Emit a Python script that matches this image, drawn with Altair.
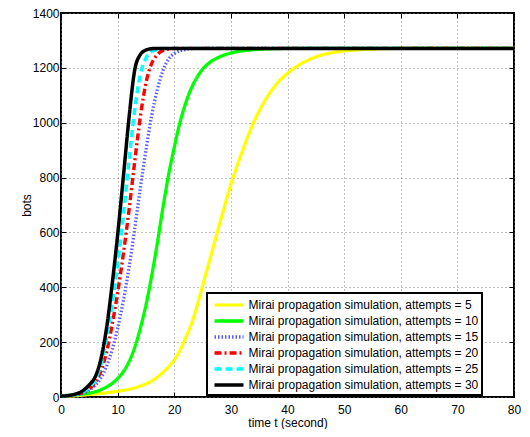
import altair as alt
import pandas as pd

t = [0, 2, 4, 5, 6, 7, 8, 9, 10, 11, 12, 13, 14, 15, 16, 17, 18, 19, 20, 21,
     22, 23, 24, 25, 26, 28, 30, 32, 34, 36, 38, 40, 42, 45, 48, 52, 56, 60, 70, 80]

bots_5 = [2, 4, 7, 9, 11, 13, 15, 18, 21, 24, 28, 33, 40, 48, 58, 72, 90, 110, 135, 170,
          215, 265, 330, 405, 480, 630, 775, 895, 1000, 1080, 1140, 1180, 1210, 1240, 1256, 1265, 1269, 1271, 1271, 1271]
bots_10 = [5, 7, 11, 14, 19, 26, 36, 49, 67, 92, 128, 180, 250, 335, 440, 560, 690, 810, 910, 1000,
           1070, 1125, 1165, 1195, 1215, 1240, 1254, 1262, 1266, 1269, 1270, 1271, 1271, 1271, 1271, 1271, 1271, 1271, 1271, 1271]
bots_15 = [3, 6, 14, 25, 42, 68, 110, 170, 250, 350, 470, 610, 760, 900, 1025, 1120, 1190, 1232, 1252, 1262,
           1267, 1270, 1271, 1271, 1271, 1271, 1271, 1271, 1271, 1271, 1271, 1271, 1271, 1271, 1271, 1271, 1271, 1271, 1271, 1271]
bots_20 = [3, 6, 18, 30, 52, 92, 160, 260, 380, 520, 680, 855, 1020, 1145, 1215, 1248, 1263, 1269, 1271, 1271,
           1271, 1271, 1271, 1271, 1271, 1271, 1271, 1271, 1271, 1271, 1271, 1271, 1271, 1271, 1271, 1271, 1271, 1271, 1271, 1271]
bots_25 = [3, 7, 20, 35, 62, 115, 210, 335, 480, 660, 860, 1045, 1175, 1235, 1259, 1267, 1271, 1271, 1271, 1271,
           1271, 1271, 1271, 1271, 1271, 1271, 1271, 1271, 1271, 1271, 1271, 1271, 1271, 1271, 1271, 1271, 1271, 1271, 1271, 1271]
bots_30 = [3, 8, 25, 45, 72, 135, 245, 405, 590, 800, 1015, 1190, 1248, 1265, 1270, 1271, 1271, 1271, 1271, 1271,
           1271, 1271, 1271, 1271, 1271, 1271, 1271, 1271, 1271, 1271, 1271, 1271, 1271, 1271, 1271, 1271, 1271, 1271, 1271, 1271]

attempts = [5, 10, 15, 20, 25, 30]
series = [bots_5, bots_10, bots_15, bots_20, bots_25, bots_30]
labels = [f"Mirai propagation simulation, attempts = {a}" for a in attempts]
colors = ["#ffff00", "#00ff00", "#5a5aff", "#ff0000", "#00ffff", "#000000"]
dashes = [[1, 0], [1, 0], [1.5, 2], [7, 3, 2, 3], [7, 4], [1, 0]]
widths = [3.2, 3.5, 1.6, 3, 3, 2.5]

x_ticks = list(range(0, 81, 10))
y_ticks = list(range(0, 1401, 200))

rows = []
for lab, vals in zip(labels, series):
    for ti, v in zip(t, vals):
        rows.append({"t": ti, "bots": v, "series": lab})
df = pd.DataFrame(rows)

FONT = "Liberation Sans"
xscale = alt.Scale(domain=[0, 80], nice=False)
yscale = alt.Scale(domain=[0, 1400], nice=False)

leg = alt.Legend(
    title=None, orient="none", legendX=146, legendY=280,
    symbolType="M-2,0L2,0", symbolSize=210, symbolOffset=10,
    labelOffset=10.5, labelFontSize=12, labelFont=FONT, labelColor="black",
    labelLimit=400, padding=3, rowPadding=0, fillColor="white",
    strokeColor="black",
)

lines = alt.Chart(df).mark_line(interpolate="monotone").encode(
    x=alt.X("t:Q", scale=xscale, axis=alt.Axis(
        values=x_ticks, format="d", offset=-5, tickSize=5, domain=False,
        grid=True, gridDash=[1, 3], gridColor="#7f7f7f", gridOpacity=1,
        labelFontSize=12, labelFont=FONT, labelColor="black", labelPadding=7.5,
        labelFlush=False, labelOverlap=False, tickColor="black",
        title="time t (second)", titleFontSize=12, titleFont=FONT,
        titleFontWeight="normal", titleColor="black",
        titleBaseline="alphabetic", titleY=34)),
    y=alt.Y("bots:Q", scale=yscale, axis=alt.Axis(
        values=y_ticks, format="d", offset=-5, tickSize=5, domain=False,
        grid=True, gridDash=[1, 3], gridColor="#7f7f7f", gridOpacity=1,
        labelFontSize=12, labelFont=FONT, labelColor="black", labelPadding=2,
        labelFlush=False, labelOverlap=False, tickColor="black",
        title="bots", titleFontSize=12, titleFont=FONT,
        titleFontWeight="normal", titleColor="black",
        titleBaseline="alphabetic", titleX=-36)),
    color=alt.Color("series:N", scale=alt.Scale(domain=labels, range=colors), legend=leg),
    strokeDash=alt.StrokeDash("series:N", scale=alt.Scale(domain=labels, range=dashes), legend=leg),
    strokeWidth=alt.StrokeWidth("series:N", scale=alt.Scale(domain=labels, range=widths), legend=leg),
)

ghost = alt.Chart(df).mark_point(opacity=0).encode(
    x=alt.X("t:Q", scale=xscale, axis=alt.Axis(
        orient="top", values=x_ticks, offset=-5, tickSize=5, domain=False,
        grid=False, labels=False, title=None, tickColor="black")),
    y=alt.Y("bots:Q", scale=yscale, axis=alt.Axis(
        orient="right", values=y_ticks, offset=-5, tickSize=5, domain=False,
        grid=False, labels=False, title=None, tickColor="black")),
)

chart = alt.layer(lines, ghost).resolve_axis(
    x="independent", y="independent"
).properties(
    width=453, height=384,
    autosize=alt.AutoSizeParams(type="none"),
    padding={"left": 53, "top": 5, "right": 8, "bottom": 32},
    background="white",
).configure_view(
    stroke="black", strokeWidth=2
).configure_legend(
    strokeWidth=2
)

chart.save("out.html", embed_options={"renderer": "svg", "actions": False})
